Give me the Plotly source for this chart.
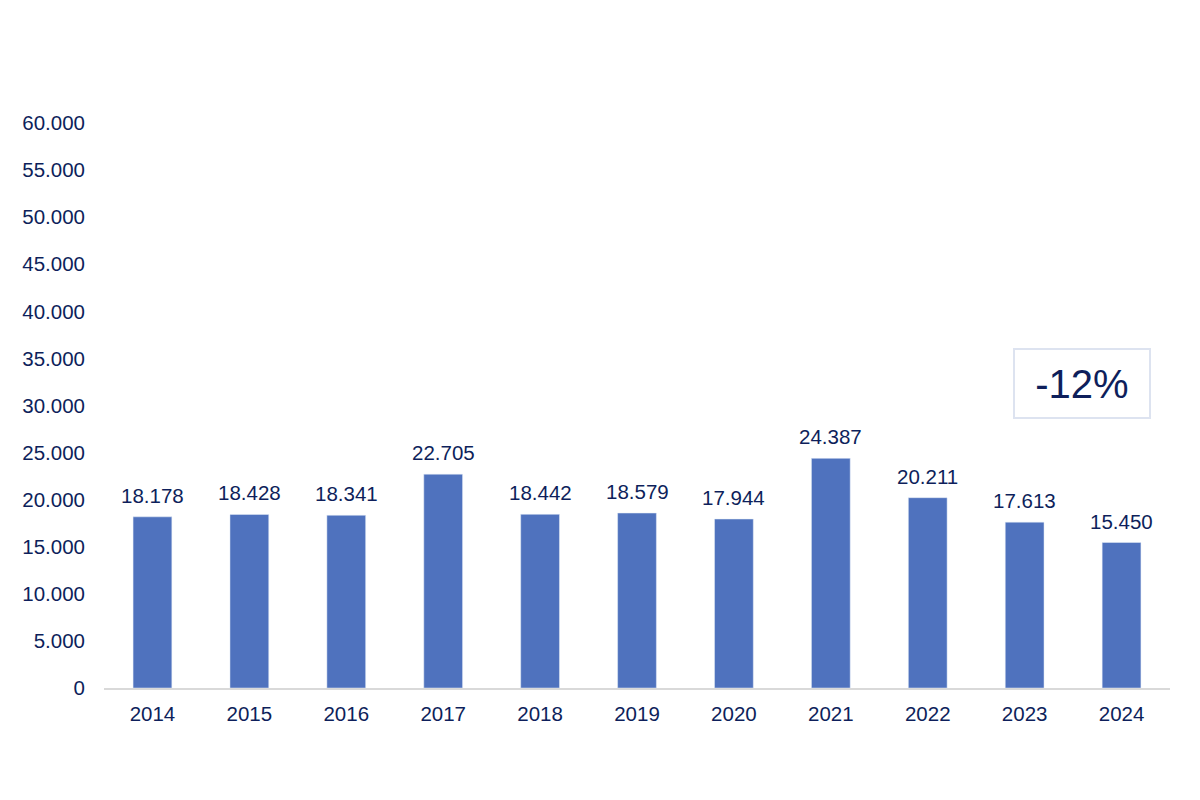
import plotly.graph_objects as go

years = ["2014", "2015", "2016", "2017", "2018", "2019", "2020", "2021", "2022", "2023", "2024"]
values = [18178, 18428, 18341, 22705, 18442, 18579, 17944, 24387, 20211, 17613, 15450]
change_label = "-12%"

navy = "#0e1f5b"
bar_color = "#4f72be"
fs = 20.5

labels = [f"{v:,}".replace(",", ".") for v in values]

L, R, T, B = 96, 38, 115, 120
W, H = 1200, 800
pw, ph = W - L - R, H - T - B

fig = go.Figure()
fig.add_trace(go.Bar(x=years, y=values, marker_color=bar_color))

# value labels: on a category axis, annotation x is the category index
for i, (v, lab) in enumerate(zip(values, labels)):
    fig.add_annotation(x=i, y=v, text=lab, showarrow=False, yanchor="bottom",
                       yshift=8, font=dict(size=fs, color=navy))

fig.update_layout(
    width=W, height=H,
    paper_bgcolor="white", plot_bgcolor="white",
    margin=dict(l=L, r=R, t=T, b=B),
    bargap=0.6, showlegend=False,
    separators=",.",
    font=dict(family="Liberation Sans, Arial, sans-serif", color=navy, size=fs),
    xaxis=dict(type="category", showline=True, linecolor="#d9d9d9", linewidth=2, ticks="",
               ticklabelstandoff=6, tickfont=dict(size=fs, color=navy), showgrid=False),
    yaxis=dict(range=[0, 60000], dtick=5000, tickformat=",d", showgrid=False,
               zeroline=False, showline=False, ticks="", ticklabelstandoff=18,
               tickfont=dict(size=fs, color=navy)),
)

# box centre in figure pixels
bx, by = 1074, 375
fig.add_annotation(
    x=(bx - L) / pw, y=(H - B - by) / ph, xref="paper", yref="paper",
    xanchor="center", yanchor="middle",
    text=change_label, showarrow=False,
    font=dict(size=40, color=navy), bordercolor="#dde3f0", borderwidth=2,
    width=132, height=65, bgcolor="white",
)

fig.write_html("out.html")
